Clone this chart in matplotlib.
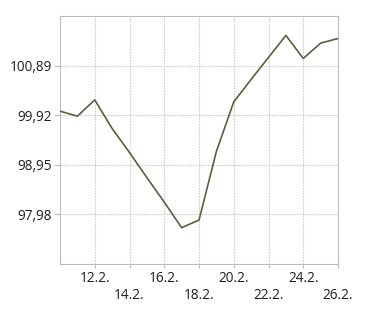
import matplotlib
matplotlib.use("Agg")
import matplotlib.pyplot as plt
from matplotlib.ticker import FixedLocator, FixedFormatter

days = [10, 11, 12, 13, 14, 15, 16, 17, 18, 19, 20, 21, 22, 23, 24, 25, 26]
values = [100.00, 99.90, 100.22, 99.66, 99.19, 98.70, 98.22, 97.72, 97.87,
          99.21, 100.18, 100.62, 101.05, 101.48, 101.03, 101.33, 101.42]

row1_ticks = [12, 16, 20, 24]
row1_labels = ["12.2.", "16.2.", "20.2.", "24.2."]
row2_ticks = [14, 18, 22, 26]
row2_labels = ["14.2.", "18.2.", "22.2.", "26.2."]
y_ticks = [97.98, 98.95, 99.92, 100.89]
y_labels = ["97,98", "98,95", "99,92", "100,89"]
y_min, y_max = 97.01, 101.86
x_min, x_max = 10, 26

plt.rcParams['font.family'] = ['Open Sans', 'DejaVu Sans']

fig = plt.figure(figsize=(3.76, 3.13), dpi=100)
W, H = 376, 313
ax = fig.add_axes([60 / W, (H - 264) / H, (338 - 60) / W, (264 - 16) / H])

ax.plot(days, values, color="#5c5e3e", linewidth=1.2, zorder=3)

ax.set_xlim(x_min, x_max)
ax.set_ylim(y_min, y_max)

ax.xaxis.set_major_locator(FixedLocator(row1_ticks))
ax.xaxis.set_major_formatter(FixedFormatter(row1_labels))
ax.xaxis.set_minor_locator(FixedLocator(row2_ticks))
ax.xaxis.set_minor_formatter(FixedFormatter(row2_labels))
ax.yaxis.set_major_locator(FixedLocator(y_ticks))
ax.yaxis.set_major_formatter(FixedFormatter(y_labels))

grid_kw = dict(color="#cccccc", linewidth=0.8, linestyle=(0, (1.5, 1)))
ax.grid(True, which="both", axis="x", **grid_kw)
ax.grid(True, which="major", axis="y", **grid_kw)

tick_color = "#bcbcbc"
lab_color = "#1e1e1e"
ax.tick_params(axis="x", which="major", length=3, width=0.8, color=tick_color,
               labelsize=9.8, labelcolor=lab_color, pad=2)
ax.tick_params(axis="x", which="minor", length=3, width=0.8, color=tick_color,
               labelsize=9.8, labelcolor=lab_color, pad=14.5)
ax.tick_params(axis="y", which="major", length=4, width=0.8, color=tick_color,
               labelsize=9.8, labelcolor=lab_color, pad=2)

for s in ax.spines.values():
    s.set_color("#bcbcbc")
    s.set_linewidth(0.8)

fig.savefig("out.png", dpi=100)
